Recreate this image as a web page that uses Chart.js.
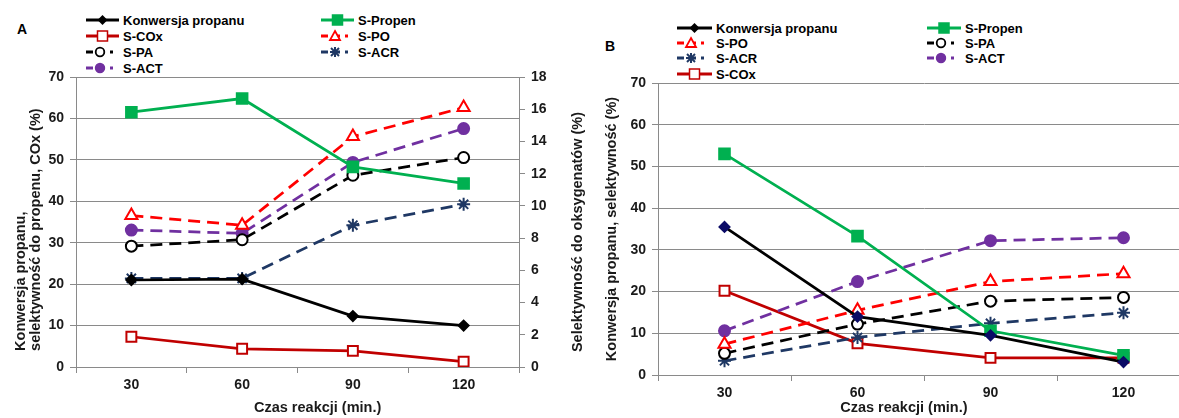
<!DOCTYPE html>
<html>
<head>
<meta charset="utf-8">
<script src="https://cdn.jsdelivr.net/npm/chart.js@4.4.1/dist/chart.umd.min.js"></script>
<style>
  html { margin: 0; padding: 0; overflow: hidden; width: 1179px; height: 418px; }
  body { margin: 0; padding: 0; background: #fff; position: relative; width: 1200px; height: 418px; font-family: 'Liberation Sans', Arial, sans-serif; }
  .box { position: absolute; top: 0; height: 418px; }
  .lbl { position: absolute; font-weight: bold; font-size: 14px; color: #000; }
  .leg { position: absolute; display: flex; align-items: center; font-weight: bold; font-size: 13px; color: #000; white-space: nowrap; height: 16px; }
  .leg svg { margin-right: 4px; }
</style>
</head>
<body>
<div class="lbl" style="left:17px; top:21px;">A</div>
<div class="lbl" style="left:605px; top:38px;">B</div>
<div id="legA"></div>
<div id="legB"></div>
<div class="box" style="left:0px; width:590px;"><canvas id="chartA" width="590" height="418"></canvas></div>
<div class="box" style="left:590px; width:600px;"><canvas id="chartB" width="600" height="418"></canvas></div>
<script>
// --- dane ---
const czas = ['30', '60', '90', '120'];

// panel A - oś lewa
const konwA   = [21.0, 21.2, 12.3, 10.0];
const propenA = [61.5, 64.8, 48.3, 44.3];
const coxA    = [7.3, 4.4, 3.9, 1.3];
// panel A - oś prawa (oksygenaty)
const poA  = [9.4, 8.8, 14.3, 16.1];
const paA  = [7.5, 7.9, 11.9, 13.0];
const acrA = [5.5, 5.5, 8.8, 10.1];
const actA = [8.5, 8.3, 12.7, 14.8];

// panel B
const konwB   = [35.5, 14.0, 9.5, 3.1];
const propenB = [53.0, 33.3, 10.6, 4.7];
const coxB    = [20.2, 7.6, 4.1, 4.1];
const poB  = [7.4, 15.5, 22.4, 24.3];
const paB  = [5.2, 12.2, 17.7, 18.6];
const acrB = [3.4, 9.0, 12.4, 14.9];
const actB = [10.6, 22.4, 32.2, 32.9];

// tytuły osi
const tytulX = 'Czas reakcji (min.)';
const tytulYA = ['Konwersja propanu,', 'selektywność do propenu, COx (%)'];
const tytulY2A = 'Selektywność do oksygenatów (%)';
const tytulYB = 'Konwersja propanu, selektywność (%)';

const FONT = "'Liberation Sans', Arial, sans-serif";
const GRID = '#8a8a8a';
const TXT = '#1a1a1a';

// style serii
const styl = {
    konw:   { label: 'Konwersja propanu', color: '#000000', dash: [], point: 'rectRot', r: 5, fill: '#000000' },
    propen: { label: 'S-Propen', color: '#00B050', dash: [], point: 'rect', r: 7.5, fill: '#00B050' },
    cox:    { label: 'S-COx', color: '#C00000', dash: [], point: 'rect', r: 7, fill: '#ffffff' },
    po:     { label: 'S-PO', color: '#FF0000', dash: [12, 7], point: 'triangle', r: 7, fill: '#ffffff' },
    pa:     { label: 'S-PA', color: '#000000', dash: [12, 7], point: 'circle', r: 5.5, fill: '#ffffff' },
    acr:    { label: 'S-ACR', color: '#1F3864', dash: [12, 7], point: 'star', r: 6.5, fill: '#1F3864' },
    act:    { label: 'S-ACT', color: '#7030A0', dash: [12, 7], point: 'circle', r: 5.5, fill: '#7030A0' }
};

function ds(key, data, axis, extra) {
    const s = styl[key];
    return Object.assign({
        label: s.label,
        data: data,
        yAxisID: axis,
        borderColor: s.color,
        borderWidth: 2.75,
        borderDash: s.dash,
        pointStyle: s.point,
        pointRadius: s.r,
        pointHoverRadius: s.r,
        pointBackgroundColor: s.fill,
        pointBorderColor: s.color,
        pointBorderWidth: 2,
        tension: 0,
        fill: false
    }, extra || {});
}

// --- legenda (HTML + SVG) ---
function markerSvg(key, cx, cy) {
    const s = styl[key];
    const c = s.color, f = s.fill;
    switch (s.point) {
        case 'rectRot':
            return `<polygon points="${cx},${cy-5} ${cx+5},${cy} ${cx},${cy+5} ${cx-5},${cy}" fill="${f}"/>`;
        case 'rect':
            return `<rect x="${cx-5}" y="${cy-5}" width="10" height="10" fill="${f}" stroke="${c}" stroke-width="1.5"/>`;
        case 'triangle':
            return `<polygon points="${cx},${cy-5} ${cx+5},${cy+4} ${cx-5},${cy+4}" fill="${f}" stroke="${c}" stroke-width="1.8"/>`;
        case 'circle':
            return `<circle cx="${cx}" cy="${cy}" r="4.3" fill="${f}" stroke="${c}" stroke-width="1.8"/>`;
        case 'star':
            return `<g stroke="${c}" stroke-width="2"><line x1="${cx-5}" y1="${cy}" x2="${cx+5}" y2="${cy}"/><line x1="${cx}" y1="${cy-5}" x2="${cx}" y2="${cy+5}"/><line x1="${cx-4}" y1="${cy-4}" x2="${cx+4}" y2="${cy+4}"/><line x1="${cx-4}" y1="${cy+4}" x2="${cx+4}" y2="${cy-4}"/></g>`;
    }
    return '';
}

function legendItem(key, x, y, w) {
    const s = styl[key];
    const dashed = s.dash.length > 0;
    const lineW = dashed ? 27 : w;
    const line = dashed
        ? `<line x1="0" y1="8" x2="${lineW}" y2="8" stroke="${s.color}" stroke-width="3" stroke-dasharray="7,5"/>`
        : `<line x1="0" y1="8" x2="${lineW}" y2="8" stroke="${s.color}" stroke-width="3"/>`;
    const svg = `<svg width="${w}" height="16">${line}${markerSvg(key, dashed ? 14 : w / 2, 8)}</svg>`;
    return `<div class="leg" style="left:${x}px; top:${y - 8}px;">${svg}${s.label}</div>`;
}

function buildLegend(id, items) {
    document.getElementById(id).innerHTML = items.map(i => legendItem(i[0], i[1], i[2], i[3])).join('');
}

buildLegend('legA', [
    ['konw', 86, 20, 33], ['propen', 321, 20, 33],
    ['cox', 86, 36, 33], ['po', 321, 36, 33],
    ['pa', 86, 52, 33], ['acr', 321, 52, 33],
    ['act', 86, 68, 33]
]);
buildLegend('legB', [
    ['konw', 677, 28, 35], ['propen', 927, 28, 34],
    ['po', 677, 43, 35], ['pa', 927, 43, 34],
    ['acr', 677, 58, 35], ['act', 927, 58, 34],
    ['cox', 677, 74, 35]
]);

// --- osie ---
const tickFont = { family: FONT, size: 14, weight: 'bold' };
const titleFont = { family: FONT, size: 14.5, weight: 'bold', lineHeight: 1.0 };

function xScale(height, text) {
    return {
        type: 'category',
        offset: true,
        grid: { display: true, drawOnChartArea: false, offset: true, tickLength: 6, color: GRID },
        border: { color: GRID, width: 1 },
        ticks: { font: tickFont, color: TXT, padding: 4 },
        title: { display: true, text: text, font: titleFont, color: TXT, padding: { top: 0, bottom: 3 } },
        afterFit: s => {
            s.height = height;
            // etykiety są w środku kategorii - bez dodatkowego marginesu
            s.paddingLeft = 0;
            s.paddingRight = 0;
        }
    };
}

function yScale(pos, max, step, width, title, onChart, align, padTop) {
    return {
        type: 'linear',
        position: pos,
        min: 0,
        max: max,
        grid: { display: true, drawOnChartArea: onChart, tickLength: 6, color: GRID },
        border: { color: GRID, width: 1 },
        ticks: { stepSize: step, font: tickFont, color: TXT, padding: 6 },
        title: { display: !!title, text: title || '', font: titleFont, color: TXT, align: align, padding: { top: padTop, bottom: 0 } },
        afterFit: s => { s.width = width; }
    };
}

// tytuł prawej osi czytany od dołu do góry (jak w oryginale)
const tytulPrawy = {
    id: 'tytulPrawy',
    afterDraw(chart) {
        const s = chart.scales.y2;
        if (!s) return;
        const ctx = chart.ctx;
        ctx.save();
        ctx.translate(s.right - 12, (s.top + s.bottom) / 2 + 10);
        ctx.rotate(-Math.PI / 2);
        ctx.font = 'bold 14.5px ' + FONT;
        ctx.fillStyle = TXT;
        ctx.textAlign = 'center';
        ctx.textBaseline = 'middle';
        ctx.fillText(tytulY2A, 0, 0);
        ctx.restore();
    }
};

const baseOpts = {
    responsive: false,
    animation: false,
    plugins: { legend: { display: false }, tooltip: { enabled: false } },
};

const pad = (n) => ' '.repeat(n);

new Chart(document.getElementById('chartA'), {
    type: 'line',
    data: {
        labels: czas,
        datasets: [
            ds('konw', konwA, 'y'),
            ds('propen', propenA, 'y'),
            ds('cox', coxA, 'y'),
            ds('po', poA, 'y2'),
            ds('pa', paA, 'y2'),
            ds('acr', acrA, 'y2'),
            ds('act', actA, 'y2')
        ]
    },
    options: Object.assign({}, baseOpts, {
        layout: { autoPadding: false, padding: { top: 77, left: 0, right: 0, bottom: 0 } },
        scales: {
            x: xScale(51, pad(10) + tytulX),
            y: yScale('left', 70, 10, 76, tytulYA.map(t => pad(4) + t), true, 'start', 14),
            y2: yScale('right', 18, 2, 71, null, false, 'center', 0)
        }
    }),
    plugins: [tytulPrawy]
});

new Chart(document.getElementById('chartB'), {
    type: 'line',
    data: {
        labels: czas,
        datasets: [
            ds('konw', konwB, 'y', { pointBackgroundColor: '#0b0b66', pointBorderColor: '#0b0b66' }),
            ds('propen', propenB, 'y'),
            ds('po', poB, 'y'),
            ds('pa', paB, 'y'),
            ds('acr', acrB, 'y'),
            ds('act', actB, 'y'),
            ds('cox', coxB, 'y')
        ]
    },
    options: Object.assign({}, baseOpts, {
        layout: { autoPadding: false, padding: { top: 83, left: 0, right: 0, bottom: 0 } },
        scales: {
            x: xScale(43, tytulX + pad(10)),
            y: yScale('left', 70, 10, 68, tytulYB, true, 'center', 15)
        }
    })
});
</script>
</body>
</html>
